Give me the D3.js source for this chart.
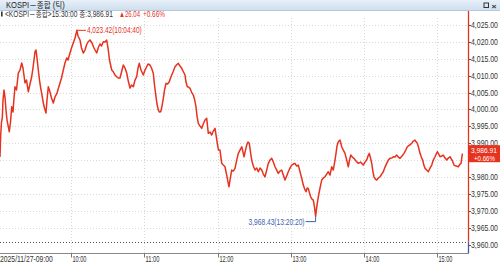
<!DOCTYPE html>
<html><head><meta charset="utf-8">
<script src="https://cdn.jsdelivr.net/npm/d3@7"></script>
<style>
html,body{margin:0;padding:0;background:#fff;overflow:hidden}
svg{display:block}
text{font-family:"Liberation Sans","Noto Sans CJK KR",sans-serif}
</style></head>
<body><svg id="c" width="500" height="264"></svg>
<script>
// ---- data ----
const title = "KOSPI－종합 (틱)";
const headerName = "<KOSPI－종합>15:30:00 종:3,986.91";
const headerChange = "▲26.04";
const headerPct = "+0.66%";
const prevClose = 3960.87;
const lastValue = 3986.91;
const lastPct = "+0.66%";
const dateLabel = "2025/11/27-09:00";
const hourTicks = ["10:00","11:00","12:00","13:00","14:00","15:00"];
const yTicks = [3960,3965,3970,3975,3980,3985,3990,3995,4000,4005,4010,4015,4020,4025];
const maxPoint = {time:"10:04:40", value:4023.42};
const minPoint = {time:"13:20:20", value:3968.43};
const times = ["09:01:38","09:02:13","09:02:52","09:03:31","09:04:06","09:04:55","09:05:44","09:06:33","09:07:23","09:08:12",
"09:09:16","09:10:15","09:11:14","09:12:18","09:13:07","09:13:56","09:15:10","09:16:38","09:18:02","09:19:26",
"09:20:29","09:22:08","09:23:22","09:24:50","09:26:14","09:27:37","09:28:41","09:30:20","09:31:09","09:31:58",
"09:33:02","09:34:01","09:35:00","09:36:04","09:37:08","09:38:07","09:39:21","09:40:10","09:41:14","09:42:37",
"09:43:51","09:45:20","09:46:43","09:48:22","09:50:49","09:52:03","09:53:32","09:54:55","09:56:19","09:57:23",
"09:59:01","10:00:15","10:01:43","10:03:07","10:04:40","10:05:35","10:07:13","10:08:26","10:09:55","10:11:19",
"10:12:32","10:13:46","10:15:25","10:17:03","10:18:41","10:20:54","10:22:23","10:23:37","10:24:50","10:26:19",
"10:27:43","10:29:06","10:30:10","10:31:24","10:33:12","10:34:31","10:35:55","10:37:18","10:38:37","10:40:00",
"10:41:14","10:42:43","10:44:06","10:45:30","10:46:58","10:48:12","10:49:26","10:50:55","10:52:18","10:53:41",
"10:54:46","10:55:49","10:57:13","10:59:06","11:00:30","11:01:53","11:02:58","11:04:35","11:05:49","11:07:18",
"11:08:17","11:09:31","11:10:20","11:11:24","11:12:23","11:13:22","11:14:26","11:15:30","11:16:29","11:17:43",
"11:18:56","11:20:25","11:21:24","11:22:23","11:23:27","11:25:06","11:26:19","11:27:48","11:29:11","11:30:35",
"11:31:39","11:33:17","11:34:06","11:35:10","11:36:10","11:37:23","11:38:37","11:40:05","11:41:14","11:42:18",
"11:43:08","11:44:11","11:45:35","11:46:59","11:48:17","11:49:41","11:51:04","11:51:44","11:52:23","11:53:47",
"11:55:10","11:56:29","11:57:53","11:58:52","11:59:46","12:00:44","12:01:58","12:03:22","12:04:41","12:06:04",
"12:07:28","12:08:32","12:09:21","12:10:25","12:11:34","12:12:53","12:14:16","12:15:40","12:16:59","12:18:22",
"12:19:46","12:20:50","12:21:39","12:22:53","12:23:52","12:24:56","12:25:59","12:26:58","12:27:58","12:29:16",
"12:30:40","12:32:04","12:33:22","12:34:46","12:36:09","12:37:28","12:38:52","12:40:15","12:41:34","12:42:57",
"12:44:21","12:45:40","12:47:03","12:48:26","12:49:45","12:51:09","12:52:32","12:53:51","12:55:15","12:56:38",
"12:57:57","12:59:20","13:00:44","13:02:03","13:03:26","13:04:50","13:06:09","13:07:33","13:08:56","13:10:15",
"13:11:24","13:12:28","13:13:27","13:14:21","13:15:20","13:16:19","13:17:23","13:18:27","13:19:26","13:20:20",
"13:21:29","13:22:33","13:23:56","13:25:20","13:26:38","13:28:02","13:29:26","13:30:44","13:32:08","13:33:32",
"13:34:50","13:36:14","13:37:03","13:37:52","13:38:56","13:40:20","13:41:44","13:43:02","13:44:26","13:45:50",
"13:47:08","13:48:07","13:49:07","13:50:25","13:51:49","13:53:27","13:55:20","13:57:08","13:59:26","14:00:50",
"14:02:13","14:03:17","14:04:22","14:05:20","14:06:20","14:07:23","14:08:13","14:09:17","14:10:26","14:11:44",
"14:13:08","14:14:31","14:15:50","14:17:14","14:18:38","14:19:56","14:21:20","14:22:43","14:24:02","14:25:26",
"14:26:50","14:28:08","14:29:32","14:31:10","14:32:49","14:34:12","14:35:31","14:37:19","14:39:07","14:40:26",
"14:41:49","14:42:49","14:43:43","14:44:52","14:45:55","14:46:59","14:48:08","14:49:02","14:50:01","14:51:25",
"14:52:44","14:54:07","14:55:31","14:56:49","14:58:13","14:59:12","15:00:06","15:01:15","15:02:19","15:03:43",
"15:05:01","15:06:25","15:07:49","15:09:07","15:10:31","15:12:09","15:13:47","15:15:26","15:17:19","15:18:43",
"15:19:32","15:20:40"];
const values = [3985.91,3992.43,3996.28,3997.46,4002.79,4005.75,4003.68,3999.83,3996.87,3995.39,
3993.40,3996.28,4000.81,3999.24,4003.38,4006.73,4005.75,4010.79,4011.67,4013.75,
4012.27,4007.83,4008.71,4005.25,4007.53,4009.69,4012.27,4017.09,4017.60,4015.23,
4011.67,4008.71,4006.34,4004.27,4001.90,4000.42,3998.94,4002.79,4006.73,4005.16,
4003.38,4001.90,4003.68,4004.86,4007.83,4009.31,4011.67,4013.75,4015.23,4014.64,
4016.71,4018.19,4019.67,4021.15,4023.42,4021.74,4020.56,4018.19,4016.71,4017.60,
4019.08,4019.97,4020.56,4019.67,4018.19,4016.71,4018.49,4019.37,4018.78,4020.05,
4019.97,4020.56,4018.19,4014.64,4011.67,4011.17,4010.19,4009.69,4009.31,4009.31,
4011.08,4013.16,4012.27,4010.79,4008.12,4006.34,4007.23,4006.73,4008.71,4009.69,
4012.27,4013.66,4011.67,4010.19,4011.67,4012.65,4013.45,4013.16,4012.27,4010.70,
4007.23,4003.77,4001.61,3999.83,3999.24,3999.33,4001.01,4003.29,4005.75,4007.74,
4007.53,4008.21,4009.31,4010.19,4011.08,4012.65,4013.16,4013.66,4012.86,4012.18,
4011.38,4010.19,4008.12,4006.73,4006.64,4006.26,4005.16,4004.27,4002.79,4000.81,
3998.05,3995.89,3995.09,3994.41,3995.68,3996.87,3997.37,3995.09,3992.93,3993.32,
3992.43,3993.61,3994.41,3992.13,3989.97,3987.98,3987.98,3984.05,3983.54,3983.04,
3980.58,3978.51,3977.12,3979.69,3982.06,3981.77,3982.57,3985.02,3987.01,3987.98,
3988.96,3987.39,3986.00,3987.98,3989.47,3990.35,3989.97,3987.39,3985.02,3983.25,
3982.06,3982.65,3981.56,3982.65,3982.06,3980.88,3980.08,3982.06,3984.05,3985.02,
3985.53,3984.43,3983.04,3982.06,3981.09,3981.77,3982.06,3980.58,3979.10,3980.29,
3981.56,3982.65,3983.54,3983.84,3984.05,3983.25,3983.54,3981.56,3979.69,3977.62,
3976.44,3975.64,3976.73,3976.64,3975.25,3974.16,3973.48,3973.18,3971.11,3968.43,
3971.70,3974.16,3976.73,3979.10,3979.69,3980.08,3980.88,3981.56,3980.58,3983.04,
3982.06,3985.02,3987.01,3989.17,3990.44,3990.95,3988.96,3987.98,3987.01,3985.02,
3983.04,3985.02,3986.50,3985.91,3985.53,3984.73,3984.05,3984.43,3983.54,3984.43,
3985.02,3986.21,3987.01,3985.62,3984.05,3981.47,3980.08,3979.40,3979.10,3979.69,
3980.08,3980.88,3981.56,3982.95,3984.05,3985.02,3985.53,3985.62,3986.00,3985.91,
3986.50,3985.91,3985.53,3986.21,3987.01,3987.98,3988.96,3989.47,3989.97,3990.65,
3990.95,3990.36,3989.97,3988.58,3987.01,3985.91,3985.02,3983.54,3982.57,3982.06,
3981.56,3982.65,3983.54,3985.02,3986.00,3986.80,3987.48,3986.80,3986.00,3986.21,
3986.50,3985.62,3985.02,3985.62,3986.00,3985.02,3983.54,3983.25,3983.04,3983.84,
3984.05,3986.91];

// ---- chart ----
const svg = d3.select("#c");
const W = 500, H = 264;
const plotRight = 468.5, plotTop = 18, baseY = 253.5;
const parse = d3.timeParse("%H:%M:%S");
const x = d3.scaleTime().domain([parse("09:00:00"), parse("15:30:00")]).range([-2, -2 + 6.5*73.2]);
const y = d3.scaleLinear().domain([3960, 4025]).range([244.6, 25]);
const data = times.map((t,i)=>({t:parse(t), v:values[i]}));
const red = "#e6321e", blue = "#3d5fae";
const fmt = d3.format(",.2f");

// text squeezed horizontally to a target width (narrow HTS font look)
function label(parent, px, py, str, size, fill, target){
  const g = parent.append("g").attr("transform",`translate(${px},${py})`);
  const t = g.append("text").attr("x",0).attr("y",0).attr("font-size",size).attr("fill",fill).text(str);
  const w = t.node().getComputedTextLength();
  if (w > 0) t.attr("transform",`scale(${target/w},1)`);
  return t;
}

// header bar
const defs = svg.append("defs");
const g1 = defs.append("linearGradient").attr("id","hb").attr("x1",0).attr("x2",0).attr("y1",0).attr("y2",1);
g1.append("stop").attr("offset","0").attr("stop-color","#e8f0f9");
g1.append("stop").attr("offset","1").attr("stop-color","#cfdfef");
svg.append("rect").attr("x",0).attr("y",0).attr("width",W).attr("height",10).attr("fill","url(#hb)");
svg.append("line").attr("x1",0).attr("x2",W).attr("y1",10.5).attr("y2",10.5).attr("stroke","#b5c9de");
label(svg, 6, 8, title, 8.5, "#222", 59);
svg.append("rect").attr("x",484).attr("y",3).attr("width",4.5).attr("height",4.5).attr("fill","none").attr("stroke","#333").attr("stroke-width",1);
label(svg, 491.5, 8.5, "×", 8, "#333", 5).attr("font-weight","bold");

// gridlines
const hourDates = hourTicks.map(h=>parse(h+":00"));
svg.append("g").selectAll("line").data(hourDates).join("line")
  .attr("x1",d=>Math.round(x(d))+0.5).attr("x2",d=>Math.round(x(d))+0.5)
  .attr("y1",plotTop).attr("y2",baseY)
  .attr("stroke","#d9d9d9").attr("stroke-dasharray","1,2");
svg.append("g").selectAll("line").data(yTicks.filter(v=>v>3960)).join("line")
  .attr("x1",0).attr("x2",plotRight)
  .attr("y1",d=>Math.round(y(d))+0.5).attr("y2",d=>Math.round(y(d))+0.5)
  .attr("stroke","#d9d9d9").attr("stroke-dasharray","1,2");
// previous close line
svg.append("line").attr("x1",0).attr("x2",plotRight)
  .attr("y1",Math.round(y(prevClose))+0.5).attr("y2",Math.round(y(prevClose))+0.5)
  .attr("stroke","#555").attr("stroke-dasharray","1,2");

// header line 2
svg.append("rect").attr("x",1).attr("y",11.5).attr("width",1.6).attr("height",5).attr("fill","#333");
label(svg, 5, 17, headerName, 8.5, "#333", 108);
label(svg, 119, 17, headerChange, 8.5, red, 21);
label(svg, 143, 17, headerPct, 8.5, red, 22);

// x axis
svg.append("line").attr("x1",0).attr("x2",plotRight).attr("y1",baseY).attr("y2",baseY).attr("stroke","#888");
svg.append("g").selectAll("line").data(hourDates).join("line")
  .attr("x1",d=>Math.round(x(d))+0.5).attr("x2",d=>Math.round(x(d))+0.5)
  .attr("y1",baseY).attr("y2",baseY+4).attr("stroke","#777");
const xl = svg.append("g");
hourTicks.forEach((h,i)=>label(xl, Math.round(x(hourDates[i]))+1.5, 262, h, 8.5, "#333", 14));
label(svg, 0, 262, dateLabel, 8.5, "#333", 53);

// price line
const line = d3.line().x(d=>x(d.t)).y(d=>y(d.v));
svg.append("path").datum(data).attr("d",line).attr("fill","none")
  .attr("stroke",red).attr("stroke-width",1.5).attr("stroke-linejoin","round");

// right axis
svg.append("line").attr("x1",plotRight).attr("x2",plotRight).attr("y1",11).attr("y2",y(prevClose)).attr("stroke",red).attr("stroke-width",1.3);
svg.append("line").attr("x1",plotRight).attr("x2",plotRight).attr("y1",y(prevClose)).attr("y2",baseY).attr("stroke",blue).attr("stroke-width",1.3);
const cy = y(lastValue);
const boxTop = cy - 8.5, boxBottom = cy + 8.5;
const shownTicks = yTicks.filter(v => !(y(v) > boxTop - 4 && y(v) < boxBottom + 3));
const yt = svg.append("g");
yt.selectAll("line").data(yTicks).join("line")
  .attr("x1",plotRight).attr("x2",plotRight+2.5)
  .attr("y1",d=>Math.round(y(d))+0.5).attr("y2",d=>Math.round(y(d))+0.5).attr("stroke","#555");
shownTicks.forEach(v=>label(yt, 471, y(v)+3, fmt(v), 8.5, "#333", 27));
// 3,990.00 label partially hidden behind the price box in the reference
const partial = yTicks.filter(v => y(v) > boxTop - 4 && y(v) <= boxTop + 2);
partial.forEach(v=>label(yt, 471, y(v)+3, fmt(v), 8.5, "#333", 27));

// current price box
svg.append("rect").attr("x",plotRight).attr("y",boxTop).attr("width",W-plotRight).attr("height",17).attr("fill",red);
label(svg, 471, cy-1, fmt(lastValue), 8, "#fff", 26);
label(svg, 474, cy+7, lastPct, 8, "#fff", 21);

// max annotation
const mx = x(parse(maxPoint.time)), my = y(maxPoint.value);
svg.append("line").attr("x1",mx).attr("x2",mx+9).attr("y1",my).attr("y2",my).attr("stroke",red);
label(svg, mx+10, my+3, fmt(maxPoint.value)+"("+maxPoint.time+")", 8.5, red, 55);
// min annotation
const nx = x(parse(minPoint.time)), ny = y(minPoint.value);
svg.append("polyline").attr("points",`${nx},${ny} ${nx},${ny+5.5} ${nx-10},${ny+5.5}`)
  .attr("fill","none").attr("stroke",blue);
label(svg, nx-67, ny+8.5, fmt(minPoint.value)+"("+minPoint.time+")", 8.5, blue, 56);
</script></body></html>
